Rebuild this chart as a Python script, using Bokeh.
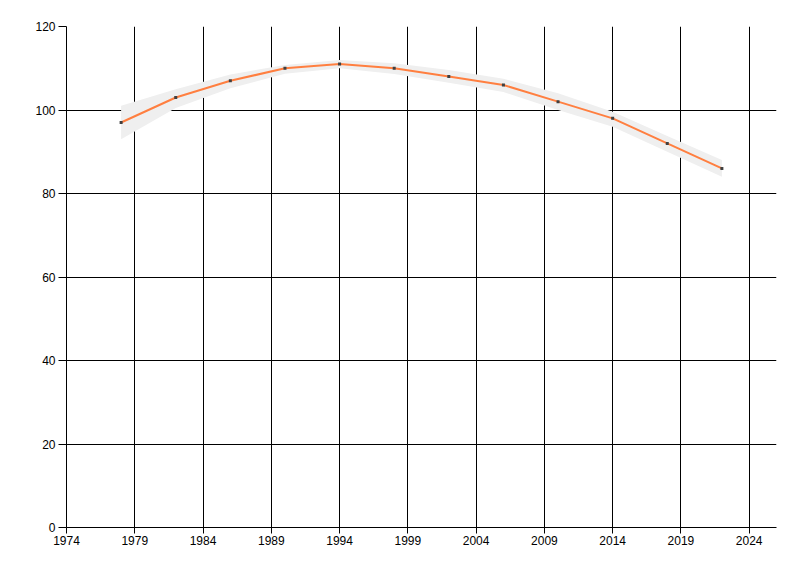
from bokeh.plotting import figure
from bokeh.models import FixedTicker, Range1d, ColumnDataSource
from bokeh.embed import file_html
from bokeh.resources import INLINE

years = [1978, 1982, 1986, 1990, 1994, 1998, 2002, 2006, 2010, 2014, 2018, 2022]
values = [97, 103, 107, 110, 111, 110, 108, 106, 102, 98, 92, 86]
lower = [93, 100.5, 105.2, 108.7, 110.0, 108.6, 106.5, 104.3, 100.0, 96.0, 90.0, 84.0]
upper = [101, 105.0, 108.5, 110.8, 112.0, 111.2, 109.6, 107.5, 104.0, 99.6, 93.8, 88.0]
x_ticks = [1974, 1979, 1984, 1989, 1994, 1999, 2004, 2009, 2014, 2019, 2024]
y_ticks = [0, 20, 40, 60, 80, 100, 120]

src = ColumnDataSource(dict(x=years, y=values, lo=lower, hi=upper))

p = figure(width=792, height=568, output_backend="svg", toolbar_location=None,
           x_range=Range1d(1974, 2026), y_range=Range1d(0, 120),
           min_border_left=66, min_border_right=16, min_border_top=26, min_border_bottom=41)
p.outline_line_color = None
p.background_fill_color = "white"
p.border_fill_color = "white"

p.varea(x="x", y1="lo", y2="hi", source=src, fill_color="#efefef", fill_alpha=1.0)
p.line(x="x", y="y", source=src, line_color="#ff7f40", line_width=2)
p.scatter(x="x", y="y", source=src, marker="square", size=3, fill_color="#404040", line_color=None)

for ax in (p.xaxis, p.yaxis):
    ax.axis_line_color = "black"
    ax.axis_line_width = 1
    ax.major_tick_line_color = "black"
    ax.major_tick_in = 0
    ax.minor_tick_line_color = None
    ax.major_label_text_font = "Liberation Sans"
    ax.major_label_text_font_size = "12px"
    ax.major_label_text_color = "black"

p.xaxis.ticker = FixedTicker(ticks=x_ticks)
p.yaxis.ticker = FixedTicker(ticks=y_ticks)
p.xaxis.major_tick_out = 6
p.yaxis.major_tick_out = 8
p.xaxis.major_label_standoff = 2
p.yaxis.major_label_standoff = 3

p.xgrid.ticker = FixedTicker(ticks=x_ticks)
p.ygrid.ticker = FixedTicker(ticks=y_ticks)
for g in (p.xgrid, p.ygrid):
    g.grid_line_color = "black"
    g.grid_line_width = 1
    g.grid_line_alpha = 1.0
    g.level = "underlay"

open("out.html", "w").write(file_html(p, INLINE))
